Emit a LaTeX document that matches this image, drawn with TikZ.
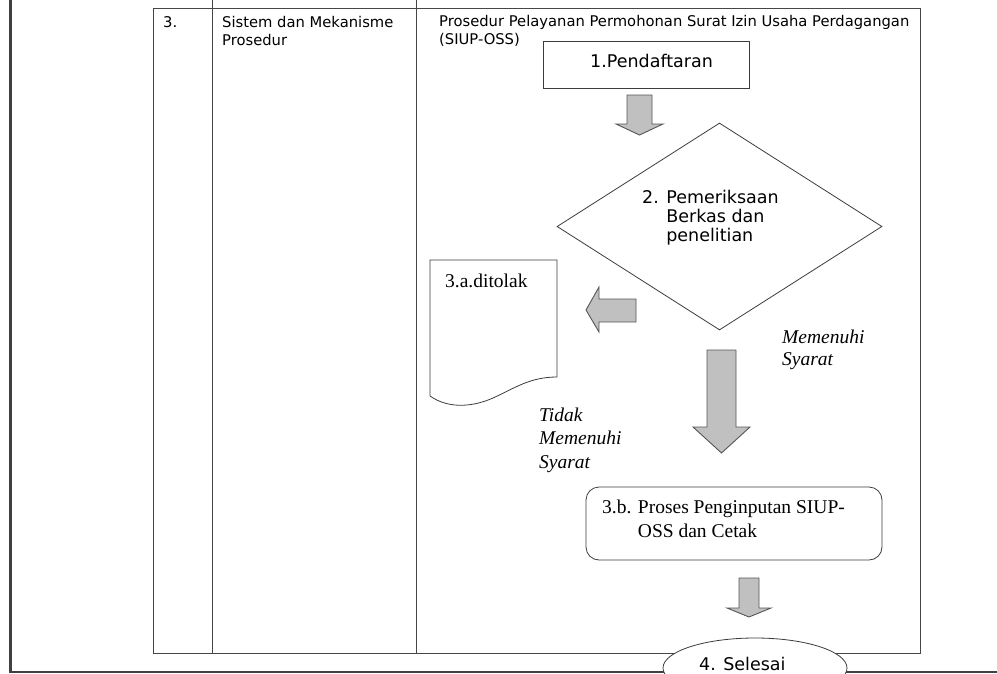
\documentclass[tikz,border=0pt]{standalone}
\usepackage{fontspec}
\setmainfont{Liberation Serif}
\newfontfamily\tahomafont{DejaVu Sans}
\usepackage{xcolor}
\usepackage{tikz}
\usetikzlibrary{shapes.geometric}

\definecolor{tableline}{RGB}{70,70,70}
\definecolor{boxline}{RGB}{60,60,60}
\definecolor{arrowfill}{RGB}{192,192,192}
\definecolor{arrowline}{RGB}{85,85,85}
\definecolor{pagebar}{RGB}{64,64,64}

\begin{document}
\begin{tikzpicture}[x=1pt, y=-1pt,
    tablefont/.style={font=\tahomafont\fontsize{14.75}{18}\selectfont},
    bigfont/.style={font=\tahomafont\fontsize{17.5}{19}\selectfont},
    seriffont/.style={font=\fontsize{19.5}{24}\selectfont},
    textat/.style={anchor=base west, inner sep=0pt, align=left},
    frame/.style={draw=tableline, line width=1pt},
    blockarrow/.style={draw=arrowline, fill=arrowfill, line width=0.9pt, line join=miter},
    shapeline/.style={draw=boxline, line width=0.8pt}]
            \useasboundingbox (0,0) rectangle (997,673);
            \clip (0,0) rectangle (997,673);

            % page and table
            \draw[pagebar, line width=3pt] (10.5,0) -- (10.5,673);
            \draw[pagebar, line width=1.5pt] (10,672) -- (997,672);
            \draw[frame] (153,8) rectangle (920,653);
            \draw[frame] (212,0) -- (212,653);
            \draw[frame] (416,0) -- (416,653);

            % base anchor = last line
            \node[tablefont, textat] (nomor) at (163,27) {3.};
            \node[tablefont, textat] (aspek) at (222,45) {Sistem dan Mekanisme\\Prosedur};
            \node[tablefont, textat] (judul) at (439,44) {Prosedur Pelayanan Permohonan Surat Izin Usaha Perdagangan\\(SIUP-OSS)};

            % flow
            \node[shapeline, minimum width=206pt, minimum height=47pt] (daftar) at (646,64.5) {};
            \node[bigfont, textat] (daftartext) at (590,67) {1.Pendaftaran};

            \node[shapeline, diamond, inner sep=0pt, minimum width=325pt, minimum height=207pt] (periksa) at (719.5,226.5) {};
            \node[bigfont, textat] (periksatext) at (642,241) {2. Pemeriksaan\\\phantom{2. }Berkas dan\\\phantom{2. }penelitian};

            \draw[shapeline] (430,260) -- (557,260) -- (557,377)
                .. controls (530,377) and (515,388) .. (493,398)
                .. controls (475,406) and (450,410) .. (430,396) -- cycle;
            \node[seriffont, textat] (tolak) at (445,287) {3.a.ditolak};

            \node[shapeline, rounded corners=13pt, minimum width=296pt, minimum height=73pt] (proses) at (734,523.5) {};
            \node[seriffont, textat] (prosestext) at (602,537) {3.b. Proses Penginputan SIUP-\\\phantom{3.b. }OSS dan Cetak};

            \node[shapeline, ellipse, fill=white, minimum width=184pt, minimum height=60pt] (selesai) at (755,668) {};
            \node[bigfont, textat] (selesaitext) at (699,670) {4. Selesai};

            \node[seriffont, textat, font=\itshape\fontsize{19.5}{23.5}\selectfont] (tidak) at (539,468) {Tidak\\Memenuhi\\Syarat};
            \node[seriffont, textat, font=\itshape\fontsize{19.5}{22}\selectfont] (memenuhi) at (782,365) {Memenuhi\\Syarat};

            % block arrows
            \draw[blockarrow] (627,95) -- (652,95) -- (652,124) -- (663,124) -- (639.5,135) -- (616,124) -- (627,124) -- cycle;
            \draw[blockarrow] (636,299) -- (636,322) -- (599,322) -- (599,332) -- (586,310) -- (599,287) -- (599,299) -- cycle;
            \draw[blockarrow] (707,350) -- (736,350) -- (736,427) -- (750,427) -- (721.5,453) -- (693,427) -- (707,427) -- cycle;
            \draw[blockarrow] (739,578) -- (759,578) -- (759,608) -- (771,608) -- (749,617) -- (727,608) -- (739,608) -- cycle;

        \end{tikzpicture}
\end{document}
